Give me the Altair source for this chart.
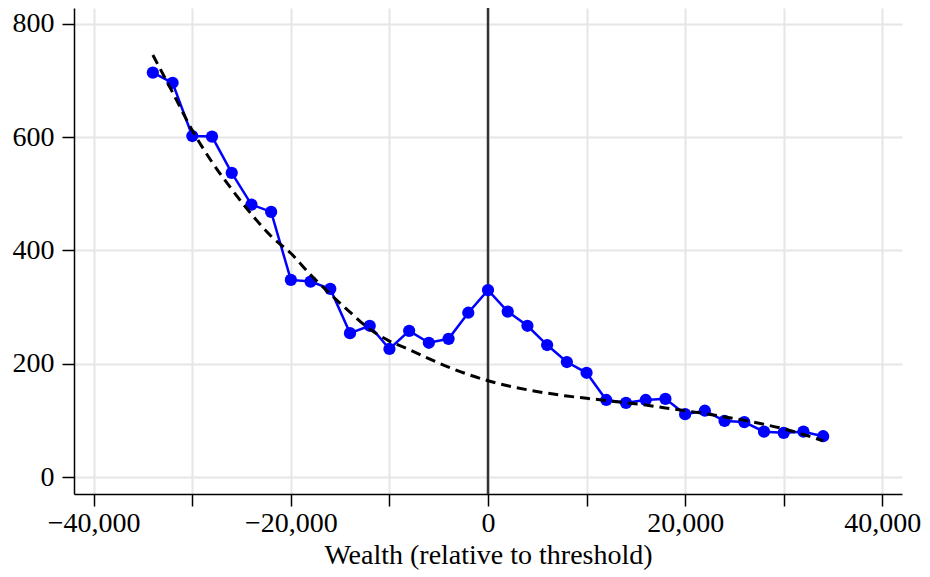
import altair as alt
import pandas as pd

# Observed data (wealth bins relative to threshold)
wealth = [-34000, -32000, -30000, -28000, -26000, -24000, -22000, -20000, -18000,
          -16000, -14000, -12000, -10000, -8000, -6000, -4000, -2000, 0,
          2000, 4000, 6000, 8000, 10000, 12000, 14000, 16000, 18000,
          20000, 22000, 24000, 26000, 28000, 30000, 32000, 34000]
counts = [714, 696, 602, 601, 537, 481, 468, 348, 345,
          332, 254, 267, 226, 258, 237, 244, 290, 330,
          292, 267, 233, 203, 184, 136, 131, 136, 138,
          111, 117, 99, 97, 80, 78, 80, 72]

# Fitted (dashed) curve
fit_x = [-34000, -32000, -30000, -28000, -26000, -24000, -22000, -20000, -18000,
         -16000, -14000, -12000, -10000, -8000, -6000, -4000, -2000, 0,
         2000, 4000, 6000, 8000, 10000, 12000, 14000, 16000, 18000,
         20000, 22000, 24000, 26000, 28000, 30000, 32000, 34000]
fit_y = [745, 679, 612, 556, 508, 464, 425, 395, 357,
         323, 291, 261, 240, 225, 209, 194, 181, 170,
         161, 154, 148, 143, 139, 135, 131, 127, 122,
         117, 112, 106, 100, 93, 85, 75, 64]

x_ticks = [-40000, -30000, -20000, -10000, 0, 10000, 20000, 30000, 40000]
y_ticks = [0, 200, 400, 600, 800]

obs = pd.DataFrame({"x": wealth, "y": counts})
fit = pd.DataFrame({"x": fit_x, "y": fit_y})
zero = pd.DataFrame({"x": [0]})

FONT = "Liberation Serif"
xscale = alt.Scale(domain=[-42000, 42000], nice=False, zero=False)
yscale = alt.Scale(domain=[-30, 828], nice=False, zero=False)

xaxis = alt.Axis(values=x_ticks, title="Wealth (relative to threshold)",
                 labelExpr="datum.value % 20000 == 0 ? format(datum.value, ',') : ''",
                 grid=True)
yaxis = alt.Axis(values=y_ticks, title=None, grid=True, format="d")

base = alt.Chart(obs)

line = base.mark_line(color="#0000ff", strokeWidth=2.5).encode(
    x=alt.X("x:Q", scale=xscale, axis=xaxis),
    y=alt.Y("y:Q", scale=yscale, axis=yaxis),
)
pts = base.mark_circle(color="#0000ff", size=150, opacity=1).encode(
    x=alt.X("x:Q", scale=xscale), y=alt.Y("y:Q", scale=yscale)
)
rule = alt.Chart(zero).mark_rule(color="#333333", strokeWidth=2.5).encode(
    x=alt.X("x:Q", scale=xscale)
)
dash = alt.Chart(fit).mark_line(color="black", strokeWidth=3, strokeDash=[10, 6],
                                interpolate="monotone").encode(
    x=alt.X("x:Q", scale=xscale), y=alt.Y("y:Q", scale=yscale)
)

chart = alt.layer(rule, line, pts, dash).properties(
    width=828, height=486,
    autosize=alt.AutoSizeParams(type="none"),
    padding={"left": 66, "top": 0, "right": 20, "bottom": 79},
).configure_view(stroke=None).configure_axis(
    labelFont=FONT, titleFont=FONT, labelFontSize=28, titleFontSize=28,
    labelColor="black", titleColor="black", titleFontWeight="normal",
    domainColor="black", domainWidth=1.5, tickColor="black", tickWidth=1.5,
    tickSize=12, gridColor="#e6e6e6", gridWidth=2, labelPadding=3,
).configure_axisX(titlePadding=4, labelFlush=False, labelOverlap=False
).configure_axisY(labelPadding=8)

chart.save("out.html", embed_options={"renderer": "svg", "actions": False})
